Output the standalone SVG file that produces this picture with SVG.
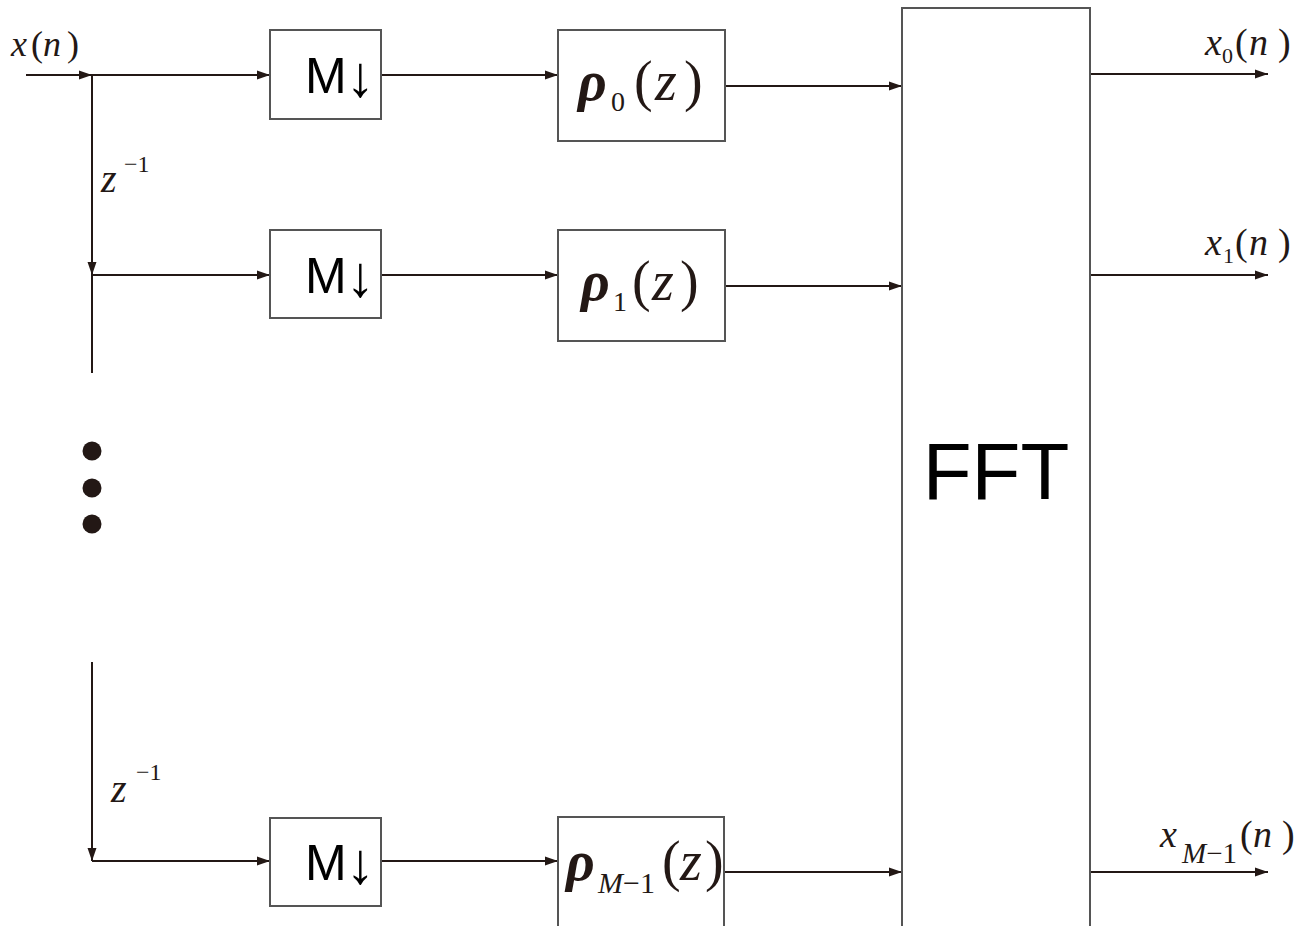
<svg xmlns="http://www.w3.org/2000/svg" width="1308" height="926" viewBox="0 0 1308 926">
<defs>
<marker id="ah" markerUnits="userSpaceOnUse" markerWidth="14" markerHeight="10" refX="13" refY="5" orient="auto">
<path d="M0,0.5 L13,5 L0,9.5 z" fill="#231815"/>
</marker>
<style>
.box{fill:#fff;stroke:#555;stroke-width:2}
.wire{fill:none;stroke:#231815;stroke-width:2}
.arr{fill:none;stroke:#231815;stroke-width:2;marker-end:url(#ah)}
.sans{font-family:'Liberation Sans',Arial,sans-serif;fill:#000}
.m{fill:#231815}
.i{font-style:italic}
.b{font-weight:bold}
</style>
</defs>
<rect width="1308" height="926" fill="#fff"/>
<g id="connectors">
<line class="arr" x1="26" y1="75" x2="92" y2="75"/>
<line class="arr" x1="92" y1="75" x2="270" y2="75"/>
<line class="arr" x1="92" y1="75" x2="92" y2="275"/>
<line class="wire" x1="92" y1="275" x2="92" y2="373"/>
<line class="arr" x1="92" y1="275" x2="270" y2="275"/>
<line class="arr" x1="92" y1="662" x2="92" y2="861"/>
<line class="arr" x1="92" y1="861" x2="270" y2="861"/>
<line class="arr" x1="381" y1="75" x2="558" y2="75"/>
<line class="arr" x1="381" y1="275" x2="558" y2="275"/>
<line class="arr" x1="381" y1="861" x2="558" y2="861"/>
<line class="arr" x1="725" y1="86" x2="902" y2="86"/>
<line class="arr" x1="725" y1="286" x2="902" y2="286"/>
<line class="arr" x1="725" y1="872" x2="902" y2="872"/>
<line class="arr" x1="1090" y1="74" x2="1268" y2="74"/>
<line class="arr" x1="1090" y1="275" x2="1268" y2="275"/>
<line class="arr" x1="1090" y1="872" x2="1268" y2="872"/>
</g>
<g id="dots" fill="#231815">
<circle cx="92" cy="451" r="9.5"/>
<circle cx="92" cy="488" r="9.5"/>
<circle cx="92" cy="524" r="9.5"/>
</g>
<g id="label-input" font-family="Liberation Serif, Times New Roman, serif">
<text class="m" font-size="36" y="56"><tspan class="i" x="11">x</tspan><tspan x="31">(</tspan><tspan class="i" x="43">n</tspan><tspan x="67">)</tspan></text>
</g>
<g id="label-delay1" font-family="Liberation Serif, Times New Roman, serif">
<text class="m i" font-size="40" x="101" y="192">z</text>
<text class="m" font-size="24" x="124" y="172">−1</text>
</g>
<g id="label-delay2" font-family="Liberation Serif, Times New Roman, serif">
<text class="m i" font-size="40" x="111" y="802">z</text>
<text class="m" font-size="24" x="136" y="780">−1</text>
</g>
<g id="down0">
<rect class="box" x="270" y="30" width="111" height="89"/>
<text class="sans" font-size="50" y="93"><tspan x="305">M</tspan><tspan x="346" font-size="58" y="96">↓</tspan></text>
</g>
<g id="down1">
<rect class="box" x="270" y="230" width="111" height="88"/>
<text class="sans" font-size="50" y="293"><tspan x="305">M</tspan><tspan x="346" font-size="58" y="296">↓</tspan></text>
</g>
<g id="downM">
<rect class="box" x="270" y="818" width="111" height="88"/>
<text class="sans" font-size="50" y="880"><tspan x="305">M</tspan><tspan x="346" font-size="58" y="883">↓</tspan></text>
</g>
<g id="filter0" font-family="Liberation Serif, Times New Roman, serif">
<rect class="box" x="558" y="30" width="167" height="111"/>
<text class="m" font-size="56" y="100"><tspan class="i b" x="578">ρ</tspan><tspan font-size="28" x="611" y="111">0</tspan><tspan x="634" y="100">(</tspan><tspan class="i" x="655">z</tspan><tspan x="684">)</tspan></text>
</g>
<g id="filter1" font-family="Liberation Serif, Times New Roman, serif">
<rect class="box" x="558" y="230" width="167" height="111"/>
<text class="m" font-size="56" y="300"><tspan class="i b" x="581">ρ</tspan><tspan font-size="28" x="613" y="311">1</tspan><tspan x="632" y="300">(</tspan><tspan class="i" x="652">z</tspan><tspan x="680">)</tspan></text>
</g>
<g id="filterM" font-family="Liberation Serif, Times New Roman, serif">
<rect class="box" x="558" y="817" width="166" height="120"/>
<text class="m" font-size="56" y="880"><tspan class="i b" x="566">ρ</tspan><tspan class="i" font-size="30" x="598" y="893">M</tspan><tspan font-size="30" y="893">−1</tspan><tspan x="662" y="880">(</tspan><tspan class="i" x="680">z</tspan><tspan x="705">)</tspan></text>
</g>
<g id="fft">
<rect class="box" x="902" y="8" width="188" height="930"/>
<text class="sans" font-size="80" x="996" y="499" text-anchor="middle">FFT</text>
</g>
<g id="label-out0" font-family="Liberation Serif, Times New Roman, serif">
<text class="m" font-size="38" y="55"><tspan class="i" x="1205">x</tspan><tspan font-size="22" x="1222" y="63">0</tspan><tspan x="1235" y="55">(</tspan><tspan class="i" x="1249">n</tspan><tspan x="1278">)</tspan></text>
</g>
<g id="label-out1" font-family="Liberation Serif, Times New Roman, serif">
<text class="m" font-size="38" y="255"><tspan class="i" x="1205">x</tspan><tspan font-size="22" x="1223" y="263">1</tspan><tspan x="1235" y="255">(</tspan><tspan class="i" x="1249">n</tspan><tspan x="1278">)</tspan></text>
</g>
<g id="label-outM" font-family="Liberation Serif, Times New Roman, serif">
<text class="m" font-size="38" y="847"><tspan class="i" x="1160">x</tspan><tspan class="i" font-size="29" x="1182" y="863">M</tspan><tspan font-size="29" y="863">−1</tspan><tspan x="1240" y="847">(</tspan><tspan class="i" x="1253">n</tspan><tspan x="1282">)</tspan></text>
</g>
</svg>
